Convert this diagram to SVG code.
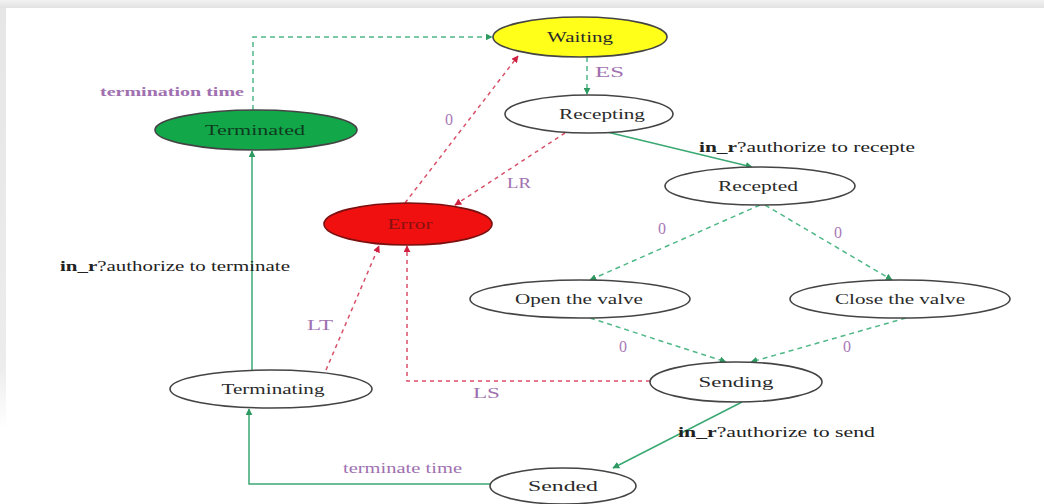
<svg xmlns="http://www.w3.org/2000/svg" width="1044" height="504" viewBox="0 0 1044 504">
  <defs>
    <linearGradient id="topShade" x1="0" y1="0" x2="0" y2="1">
      <stop offset="0" stop-color="#f2f2f2"/>
      <stop offset="1" stop-color="#e2e2e2"/>
    </linearGradient>
    <linearGradient id="leftShade" x1="0" y1="0" x2="0" y2="1">
      <stop offset="0" stop-color="#e6e6e6"/>
      <stop offset="0.85" stop-color="#ececec"/>
      <stop offset="1" stop-color="#ffffff"/>
    </linearGradient>
    <marker id="arrG" viewBox="0 0 10 10" refX="9" refY="5" markerWidth="7" markerHeight="7" markerUnits="userSpaceOnUse" orient="auto">
      <path d="M0,0 L10,5 L0,10 z" fill="#2e9a62"/>
    </marker>
    <marker id="arrR" viewBox="0 0 10 10" refX="9" refY="5" markerWidth="7" markerHeight="7" markerUnits="userSpaceOnUse" orient="auto">
      <path d="M0,0 L10,5 L0,10 z" fill="#d02040"/>
    </marker>
  </defs>
  <style>
    text { font-family: "Liberation Serif", "Times New Roman", "DejaVu Serif", serif; }
    .node ellipse { stroke: #444; stroke-width: 1.6; fill: #ffffff; }
    .node text { font-size: 15px; fill: #2a2a2a; text-anchor: middle; dominant-baseline: central; }
    .g-solid { stroke: #3aa872; stroke-width: 1.5; fill: none; marker-end: url(#arrG); }
    .g-dash { stroke: #4fb886; stroke-width: 1.5; fill: none; stroke-dasharray: 5 4; marker-end: url(#arrG); }
    .r-dash { stroke: #d85068; stroke-width: 1.5; fill: none; stroke-dasharray: 4 4; marker-end: url(#arrR); }
    .lbl { font-size: 15px; fill: #a070b0; }
    .zero { font-size: 16px; fill: #a878b8; }
    .lbl-b { font-size: 13px; font-weight: bold; fill: #a070b0; }
    .act { font-size: 14px; fill: #222; }
  </style>

  <!-- page background with shaded frame -->
  <rect x="0" y="0" width="1044" height="504" fill="#ffffff"/>
  <rect x="0" y="0" width="1044" height="8" fill="url(#topShade)"/>
  <rect x="0" y="8" width="6" height="420" fill="url(#leftShade)"/>

  <!-- transitions -->
  <g id="connectors">
    <!-- Terminated -> Waiting -->
    <path class="g-dash" d="M253,110 L253,37 L492,37"/>
    <text class="lbl-b" x="100" y="96" textLength="144" lengthAdjust="spacingAndGlyphs">termination time</text>
    <!-- Waiting -> Recepting -->
    <path class="g-dash" d="M587,57 L587,94"/>
    <text class="lbl" x="595" y="77" textLength="29" lengthAdjust="spacingAndGlyphs">ES</text>
    <!-- Error -> Waiting -->
    <path class="r-dash" d="M405,203 L518,56"/>
    <text class="zero" x="445" y="125">0</text>
    <!-- Recepting -> Error -->
    <path class="r-dash" d="M565,133 L455,205"/>
    <text class="lbl" x="507" y="188" textLength="24" lengthAdjust="spacingAndGlyphs">LR</text>
    <!-- Recepting -> Recepted -->
    <path class="g-solid" d="M607,132 L752,167"/>
    <text class="act" x="699" y="152" textLength="216" lengthAdjust="spacingAndGlyphs"><tspan font-weight="bold">in_r</tspan>?authorize to recepte</text>
    <!-- Recepted -> Open the valve -->
    <path class="g-dash" d="M760,205 L590,280"/>
    <text class="zero" x="658" y="234">0</text>
    <!-- Recepted -> Close the valve -->
    <path class="g-dash" d="M765,205 L892,280"/>
    <text class="zero" x="834" y="238">0</text>
    <!-- Open the valve -> Sending -->
    <path class="g-dash" d="M590,318 L726,362"/>
    <text class="zero" x="619" y="352">0</text>
    <!-- Close the valve -> Sending -->
    <path class="g-dash" d="M906,318 L751,362"/>
    <text class="zero" x="843" y="352">0</text>
    <!-- Sending -> Error -->
    <path class="r-dash" d="M650,381 L407,381 L407,246"/>
    <text class="lbl" x="473" y="398" textLength="27" lengthAdjust="spacingAndGlyphs">LS</text>
    <!-- Terminating -> Error -->
    <path class="r-dash" d="M326,370 L379,246"/>
    <text class="lbl" x="307" y="330" textLength="26" lengthAdjust="spacingAndGlyphs">LT</text>
    <!-- Sending -> Sended -->
    <path class="g-solid" d="M742,402 L613,468"/>
    <text class="act" x="678" y="437" textLength="197" lengthAdjust="spacingAndGlyphs"><tspan font-weight="bold">in_r</tspan>?authorize to send</text>
    <!-- Sended -> Terminating -->
    <path class="g-solid" d="M490,484 L249,484 L249,409"/>
    <text class="lbl" x="343" y="473" font-size="13" textLength="119" lengthAdjust="spacingAndGlyphs">terminate time</text>
    <!-- Terminating -> Terminated -->
    <path class="g-solid" d="M252,370 L252,151"/>
    <text class="act" x="60" y="271" textLength="230" lengthAdjust="spacingAndGlyphs"><tspan font-weight="bold">in_r</tspan>?authorize to terminate</text>
  </g>

  <!-- states -->
  <g id="waiting" class="node">
    <ellipse cx="580" cy="37" rx="87" ry="20" style="fill:#ffff1a"/>
    <text x="580" y="37" textLength="66" lengthAdjust="spacingAndGlyphs">Waiting</text>
  </g>
  <g id="recepting" class="node">
    <ellipse cx="589" cy="114" rx="84" ry="19"/>
    <text x="602" y="114" textLength="86" lengthAdjust="spacingAndGlyphs">Recepting</text>
  </g>
  <g id="terminated" class="node">
    <ellipse cx="256" cy="130" rx="101" ry="20" style="fill:#12a84a"/>
    <text x="255" y="130" textLength="100" lengthAdjust="spacingAndGlyphs" style="fill:#0f3a1e">Terminated</text>
  </g>
  <g id="error" class="node">
    <ellipse cx="408" cy="224" rx="84" ry="21" style="fill:#f01010;stroke:#7a1010"/>
    <text x="410" y="224" textLength="45" lengthAdjust="spacingAndGlyphs" style="fill:#8a1010">Error</text>
  </g>
  <g id="recepted" class="node">
    <ellipse cx="760" cy="186" rx="95" ry="19"/>
    <text x="758" y="186" textLength="80" lengthAdjust="spacingAndGlyphs">Recepted</text>
  </g>
  <g id="open-valve" class="node">
    <ellipse cx="580" cy="299" rx="110" ry="19"/>
    <text x="579" y="299" textLength="128" lengthAdjust="spacingAndGlyphs">Open the valve</text>
  </g>
  <g id="close-valve" class="node">
    <ellipse cx="900" cy="299" rx="110" ry="19"/>
    <text x="900" y="299" textLength="130" lengthAdjust="spacingAndGlyphs">Close the valve</text>
  </g>
  <g id="sending" class="node">
    <ellipse cx="736" cy="382" rx="86" ry="20"/>
    <text x="736" y="382" textLength="75" lengthAdjust="spacingAndGlyphs">Sending</text>
  </g>
  <g id="terminating" class="node">
    <ellipse cx="271" cy="389" rx="101" ry="19"/>
    <text x="273" y="389" textLength="103" lengthAdjust="spacingAndGlyphs">Terminating</text>
  </g>
  <g id="sended" class="node">
    <ellipse cx="563" cy="486" rx="73" ry="18"/>
    <text x="563" y="486" textLength="70" lengthAdjust="spacingAndGlyphs">Sended</text>
  </g>
</svg>
